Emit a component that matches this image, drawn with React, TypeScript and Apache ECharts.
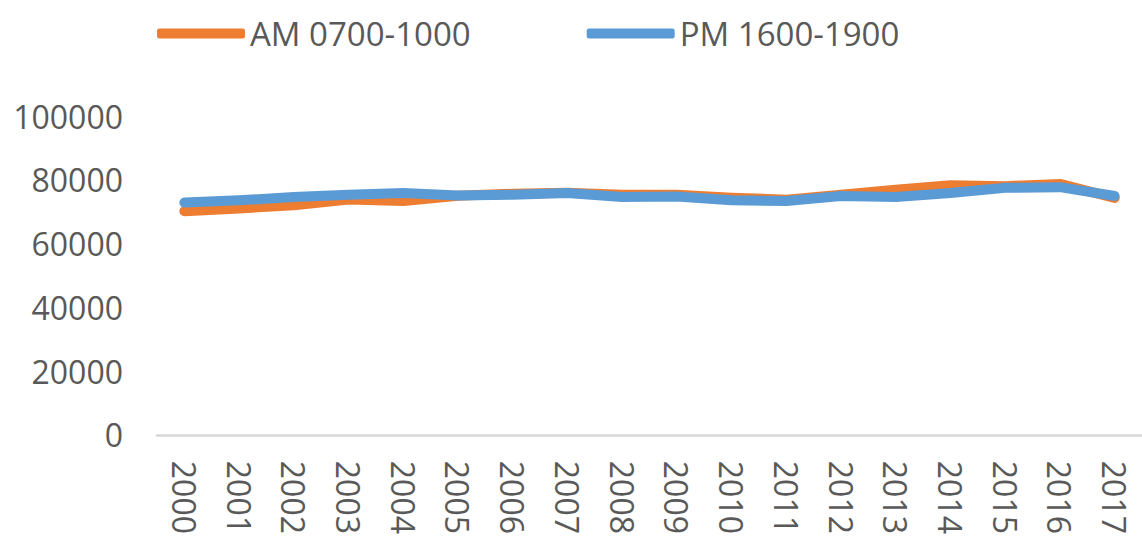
import React, { useEffect, useRef } from "react";
import * as echarts from "echarts";

const years = ["2000","2001","2002","2003","2004","2005","2006","2007","2008","2009","2010","2011","2012","2013","2014","2015","2016","2017"];
const amValues = [70150, 70990, 72010, 73800, 73300, 75000, 75620, 75930, 75310, 75310, 74380, 73770, 75310, 76850, 78300, 78000, 78700, 74290];
const pmValues = [72840, 73550, 74600, 75310, 75830, 75090, 75310, 75830, 74600, 74780, 73550, 73360, 74910, 74600, 75830, 77470, 77690, 74910];
const seriesNames = ["AM 0700-1000", "PM 1600-1900"];

const FONT = "'Open Sans', 'Noto Sans', sans-serif";
const TEXT = "#595959";

export default function App() {
  const ref = useRef<HTMLDivElement>(null);
  useEffect(() => {
    const chart = echarts.init(ref.current!, null, { renderer: "svg" });
    chart.setOption({
      animation: false,
      textStyle: { fontFamily: FONT },
      legend: {
        left: 152,
        top: 12,
        itemWidth: 88,
        itemHeight: 10,
        itemGap: 116,
        icon: "roundRect",
        textStyle: { fontSize: 33, color: TEXT, fontFamily: FONT },
        data: seriesNames,
      },
      grid: { left: 157, right: -14, top: 116, bottom: 97, containLabel: false },
      xAxis: {
        type: "category",
        data: years,
        boundaryGap: true,
        axisLine: { lineStyle: { color: "#d9d9d9", width: 2.5 } },
        axisTick: { show: false },
        axisLabel: { rotate: -90, color: TEXT, fontSize: 32, fontFamily: FONT, margin: 26, interval: 0 },
      },
      yAxis: {
        type: "value",
        min: 0,
        max: 100000,
        interval: 20000,
        axisLine: { show: false },
        axisTick: { show: false },
        splitLine: { show: false },
        axisLabel: { color: TEXT, fontSize: 32, fontFamily: FONT, margin: 34, formatter: (v: number) => String(v) },
      },
      series: [
        {
          name: seriesNames[0],
          type: "line",
          data: amValues,
          showSymbol: false,
          symbol: "none",
          color: "#ED7D31",
          lineStyle: { width: 10, color: "#ED7D31", cap: "round", join: "round" },
        },
        {
          name: seriesNames[1],
          type: "line",
          data: pmValues,
          showSymbol: false,
          symbol: "none",
          color: "#5B9BD5",
          lineStyle: { width: 10, color: "#5B9BD5", cap: "round", join: "round" },
        },
      ],
    });
    return () => chart.dispose();
  }, []);
  return (
    <div
      ref={ref}
      style={{ position: "fixed", left: 0, top: 0, width: 1142, height: 537, background: "#fff" }}
    />
  );
}
